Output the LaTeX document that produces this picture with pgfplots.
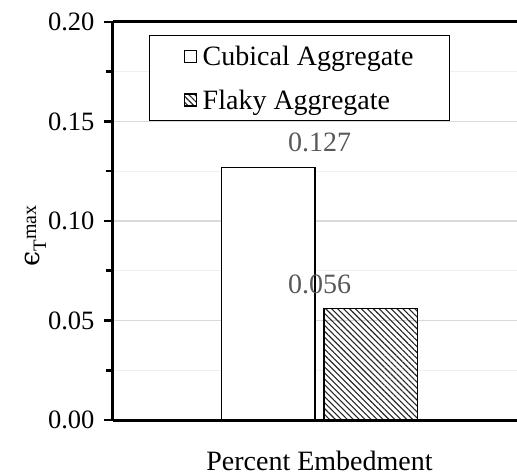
\documentclass[border=0pt]{standalone}
\usepackage{fontspec}
\setmainfont{Liberation Serif}
\newfontfamily\djs{DejaVu Serif}
\usepackage{pgfplots}
\pgfplotsset{compat=1.18}
\usetikzlibrary{patterns.meta}
\definecolor{lbl}{HTML}{595959}
\begin{document}
\begin{tikzpicture}
\begin{axis}[
  scale only axis, width=413bp, height=398bp,
  xmin=-1, xmax=1, ymin=0, ymax=0.2,
  clip=false,
  axis x line*=bottom, axis y line*=left,
  axis line style={-, line width=3bp, black},
  xtick=\empty,
  ytick={0,0.05,0.1,0.15,0.2},
  minor ytick={0.025,0.075,0.125,0.175},
  tick align=outside, major tick length=9bp, minor tick length=7bp,
  tick style={black, line width=2.5bp},
  ymajorgrids, yminorgrids,
  major grid style={line width=1.2bp, black!15},
  minor grid style={line width=1.2bp, black!6},
  /pgf/number format/assume math mode=true,
  yticklabel style={/pgf/number format/.cd, fixed, fixed zerofill, precision=2, /tikz/.cd, xshift=-6bp, font=\fontsize{26.5bp}{30bp}\selectfont},
  font=\fontsize{28bp}{33bp}\selectfont,
  xlabel={Percent Embedment},
  xlabel style={at={(axis description cs:0.5,0)}, anchor=base, yshift=-50bp},
  ylabel={{\djs\fontsize{27bp}{27bp}\selectfont ϵ}\raisebox{-7bp}{\fontsize{19bp}{19bp}\selectfont T}\raisebox{3bp}{\fontsize{20bp}{20bp}\selectfont max}},
  ylabel style={at={(axis description cs:-0.179,0.462)}, anchor=base},
  nodes near coords={\pgfmathprintnumber[fixed,fixed zerofill,precision=3]{\pgfplotspointmeta}},
  every node near coord/.append style={text=lbl, yshift=11bp},
  legend style={at={(axis description cs:0.087,0.967)}, anchor=north west, draw=black, line width=1.2bp, inner xsep=34bp, inner ysep=8bp, row sep=19bp, column sep=4bp, font=\fontsize{28bp}{33bp}\selectfont},
  legend cell align=left,
  legend image code/.code={\draw[#1,line width=1.2bp] (0bp,-6bp) rectangle (12bp,6bp);},
]
\addplot[ybar, bar width=0.455, bar shift=-0.249, fill=white, draw=black, line width=1.2bp] coordinates {(0,0.127)};
\addlegendentry{Cubical Aggregate}
\addplot[ybar, bar width=0.455, bar shift=0.249, draw=black, line width=1.2bp, pattern={Lines[angle=-45,distance=4.2bp,line width=1.1bp]}, pattern color=black!85] coordinates {(0,0.056)};
\addlegendentry{Flaky Aggregate}
\draw[line width=3bp] (rel axis cs:0,1) -- (rel axis cs:1,1);
\coordinate (sw) at (rel axis cs:0,0);
\end{axis}
\pgfresetboundingbox
\useasboundingbox ([shift={(-113bp,-56bp)}]sw) rectangle ([shift={(404bp,420bp)}]sw);
\end{tikzpicture}
\end{document}
